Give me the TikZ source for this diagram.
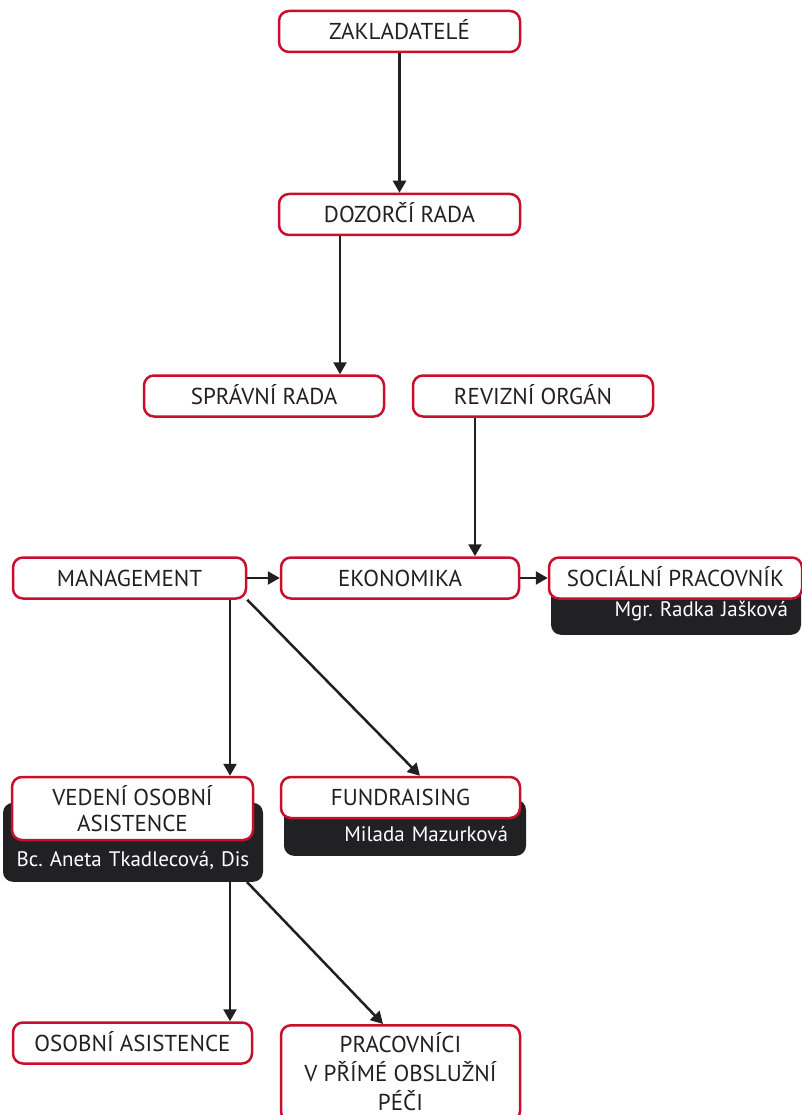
\documentclass[tikz,border=0pt]{standalone}
\usepackage{fontspec}
\setmainfont{PT Sans}
\usetikzlibrary{positioning,arrows.meta}
\definecolor{boxred}{RGB}{200,16,46}
\definecolor{boxdark}{RGB}{33,33,36}
\definecolor{textgray}{RGB}{35,31,32}
\frenchspacing

\begin{document}
\begin{tikzpicture}[x=1pt,y=-1pt,
unit/.style ={rectangle, rounded corners=10pt, draw=boxred, line width=2.5pt,
 fill=white, text=textgray, minimum height=41pt, inner sep=0pt,
 text height=16pt, text depth=0pt, font=\fontsize{23}{29}\selectfont},
namebox/.style ={rectangle, rounded corners=10pt, fill=boxdark, text=white,
 text depth=6pt, font=\fontsize{21}{25}\selectfont},
arr/.style ={-{Triangle[length=12pt,width=13pt]}, line width=2.5pt, draw=textgray}]
\useasboundingbox (0,0) rectangle (801,1115);

\node[unit, minimum width=241pt] (zakl) at (399.5,31.5) {ZAKLADATELÉ};
\node[unit, minimum width=241pt] (dozor) at (399.5,214.5) {DOZORČÍ RADA};
\node[unit, minimum width=240pt] (sprava) at (264,396) {SPRÁVNÍ RADA};
\node[unit, minimum width=240pt] (revize) at (533,396) {REVIZNÍ ORGÁN};
\node[unit, minimum width=233pt] (mgmt) at (129.5,578) {MANAGEMENT};
\node[unit, minimum width=238pt] (ekon) at (400,578) {EKONOMIKA};
% dark name plates go under the boxes
\node[namebox, anchor=south, text width=224pt, inner xsep=13pt, align=right,
 text height=22pt, inner ysep=12pt] (socname) at (676,635) {Mgr. Radka Jašková};
\node[unit, minimum width=253pt] (social) at (675.5,578) {SOCIÁLNÍ PRACOVNÍK};
\node[namebox, anchor=south, text width=244pt, inner xsep=8pt, align=center,
 text height=55pt, inner ysep=9pt] (vedname) at (133,882) {Bc. Aneta Tkadlecová, Dis};
\node[unit, minimum width=241pt, minimum height=63pt, align=center, text height=45pt,
 font=\fontsize{23}{26}\selectfont] (vedeni) at (132.5,808.5) {VEDENÍ OSOBNÍ\\ASISTENCE};
\node[namebox, anchor=south, text width=206pt, inner xsep=18pt, align=right,
 text height=34pt, inner ysep=8pt] (fundname) at (405,856) {Milada Mazurková};
\node[unit, minimum width=239pt] (fund) at (400.5,797.5) {FUNDRAISING};
\node[unit, minimum width=239pt] (osob) at (132.5,1043) {OSOBNÍ ASISTENCE};
\node[unit, minimum width=239pt, anchor=north, align=center, text height=74pt,
 inner ysep=11pt] (prac) at (400.5,1024) {PRACOVNÍCI\\V PŘÍMÉ OBSLUŽNÍ\\PÉČI};

\draw[arr] (zakl) -- (dozor);
\draw[arr] ([xshift=-59.5pt]dozor.south) -- ([xshift=76pt]sprava.north);
\draw[arr] ([xshift=-58pt]revize.south) -- ([xshift=75pt]ekon.north);
\draw[arr] (mgmt) -- (ekon);
\draw[arr] (ekon) -- (social);
\draw[arr] ([xshift=100.5pt]mgmt.south) -- ([xshift=97.5pt]vedeni.north);
\draw[arr] (mgmt.south east) -- ([xshift=19.5pt]fund.north);
\draw[arr] ([xshift=97pt]vedname.south) -- ([xshift=97.5pt]osob.north);
\draw[arr] ([xshift=114pt]vedname.south) -- ([xshift=-17.5pt]prac.north);
\end{tikzpicture}
\end{document}
